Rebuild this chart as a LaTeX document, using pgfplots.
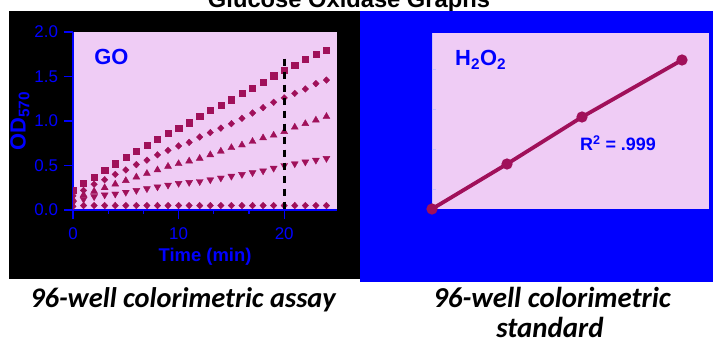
\documentclass[border=0pt]{standalone}
\usepackage{fontspec}
\setmainfont{Liberation Sans}
\newfontfamily\capfont{Carlito}
\usepackage{pgfplots}
\usepackage{pgfplotstable}
\pgfplotsset{compat=1.18}
\definecolor{maroon}{RGB}{160,16,90}
\definecolor{pinkbg}{RGB}{239,204,245}
\definecolor{pblue}{RGB}{0,0,255}
\definecolor{paleline}{RGB}{200,190,250}

\pgfplotstableread{
t s d tr tv b
0 0.22 0.16 0.12 0.08 0.04
1 0.30 0.22 0.17 0.12 0.05
2 0.37 0.29 0.21 0.15 0.05
3 0.45 0.34 0.25 0.17 0.05
4 0.52 0.40 0.29 0.18 0.05
5 0.59 0.45 0.33 0.20 0.05
6 0.66 0.51 0.37 0.22 0.05
7 0.73 0.56 0.41 0.24 0.05
8 0.80 0.62 0.45 0.26 0.05
9 0.86 0.67 0.49 0.28 0.05
10 0.92 0.72 0.52 0.30 0.05
11 0.98 0.76 0.55 0.31 0.05
12 1.05 0.82 0.58 0.32 0.05
13 1.12 0.87 0.62 0.34 0.05
14 1.18 0.92 0.66 0.36 0.05
15 1.24 0.97 0.70 0.38 0.05
16 1.31 1.03 0.73 0.40 0.05
17 1.37 1.09 0.77 0.42 0.05
18 1.44 1.15 0.81 0.44 0.05
19 1.51 1.21 0.84 0.47 0.05
20 1.57 1.26 0.88 0.50 0.05
21 1.63 1.31 0.93 0.52 0.05
22 1.69 1.36 0.97 0.54 0.05
23 1.75 1.42 1.01 0.56 0.05
24 1.80 1.46 1.05 0.58 0.05
}\godata

\pgfplotstableread{
x y
0 0
3 0.45
6 0.92
10 1.49
}\stddata

\begin{document}
\begin{tikzpicture}[x=1bp,y=1bp]
\useasboundingbox (0,0) rectangle (713,343);
% title (partly outside the page)
\node[anchor=base,inner sep=0pt,font=\fontsize{23.8}{26}\selectfont\bfseries] at (349,336) {Glucose Oxidase Graphs};
% panels
\fill[black] (9,343-279) rectangle (360,343-11);
\fill[pblue] (360,343-282) rectangle (713,343-11);

\begin{axis}[
  at={(73bp,133bp)}, anchor=south west,
  width=264bp, height=178bp, scale only axis,
  xmin=0, xmax=25, ymin=0, ymax=2,
  axis background/.style={fill=pinkbg},
  axis x line*=bottom, axis y line*=left,
  axis line style={pblue, line width=1.3bp},
  xtick={0,10,20}, ytick={0,0.5,1,1.5,2},
  minor x tick num=2,
  tick align=outside,
  major tick length=9bp, minor tick length=4bp,
  every tick/.style={pblue, line width=1.2bp},
  /pgf/number format/assume math mode=true,
  tick label style={font=\fontsize{17}{19}\selectfont, text=pblue},
  yticklabel style={/pgf/number format/fixed,/pgf/number format/fixed zerofill,/pgf/number format/precision=1, xshift=-2.5bp},
  xticklabel style={yshift=-5bp},
  xlabel={\textbf{Time (min)}},
  ylabel={\textbf{OD\textsubscript{570}}},
  label style={text=pblue},
  xlabel style={font=\fontsize{18.5}{20}\selectfont, at={(axis description cs:0.5,-0.264)}, anchor=center},
  ylabel style={font=\fontsize{22}{24}\selectfont, at={(axis description cs:-0.201,0.5)}, anchor=center},
  clip marker paths=true,
]
\addplot[only marks, mark=square*, mark size=3.1bp, maroon] table[x=t,y=s] {\godata};
\addplot[only marks, mark=diamond*, mark size=3.3bp, mark options={xscale=1.3}, maroon] table[x=t,y=d] {\godata};
\addplot[only marks, mark=triangle*, mark size=4bp, maroon] table[x=t,y=tr] {\godata};
\addplot[only marks, mark=triangle*, mark options={rotate=180}, mark size=4bp, maroon] table[x=t,y=tv] {\godata};
\addplot[only marks, mark=diamond*, mark size=3.3bp, mark options={xscale=1.3}, maroon] table[x=t,y=b] {\godata};
\addplot[draw=black, line width=3bp, dash pattern=on 7bp off 6bp, no marks] coordinates {(20,1.7) (20,0)};
\node[anchor=west, inner sep=0pt, text=pblue, font=\fontsize{22}{24}\selectfont\bfseries] at (rel axis cs:0.08,0.86) {GO};
\end{axis}

\begin{axis}[
  at={(432bp,134bp)}, anchor=south west,
  width=277bp, height=176bp, scale only axis,
  xmin=0, xmax=11.08, ymin=0, ymax=1.76,
  axis background/.style={fill=pinkbg},
  axis x line=none, axis y line*=left,
  axis line style={paleline, line width=0.8bp},
  xtick=\empty, ytick={0.2,0.6,1.0,1.4}, yticklabels={},
  tick align=inside, major tick length=4bp,
  every tick/.style={paleline, line width=0.8bp},
  clip=false,
]
\addplot[maroon, line width=3.8bp, mark=*, mark size=3.6bp] table[x=x,y=y] {\stddata};
\node[anchor=west, inner sep=0pt, text=pblue, font=\fontsize{22}{24}\selectfont\bfseries] at (rel axis cs:0.083,0.847) {H\textsubscript{2}O\textsubscript{2}};
\node[anchor=west, inner sep=0pt, text=pblue, font=\fontsize{18}{20}\selectfont\bfseries] at (rel axis cs:0.534,0.375) {R\textsuperscript{2} = .999};
\end{axis}

% captions
\node[anchor=base, inner sep=0pt, font=\capfont\fontsize{28.5}{30}\selectfont\bfseries\itshape] at (183,343-307) {96-well colorimetric assay};
\node[anchor=base, inner sep=0pt, font=\capfont\fontsize{29}{30}\selectfont\bfseries\itshape] at (552,343-307) {96-well colorimetric};
\node[anchor=base, inner sep=0pt, font=\capfont\fontsize{29}{30}\selectfont\bfseries\itshape] at (550,343-337) {standard};
\end{tikzpicture}
\end{document}
